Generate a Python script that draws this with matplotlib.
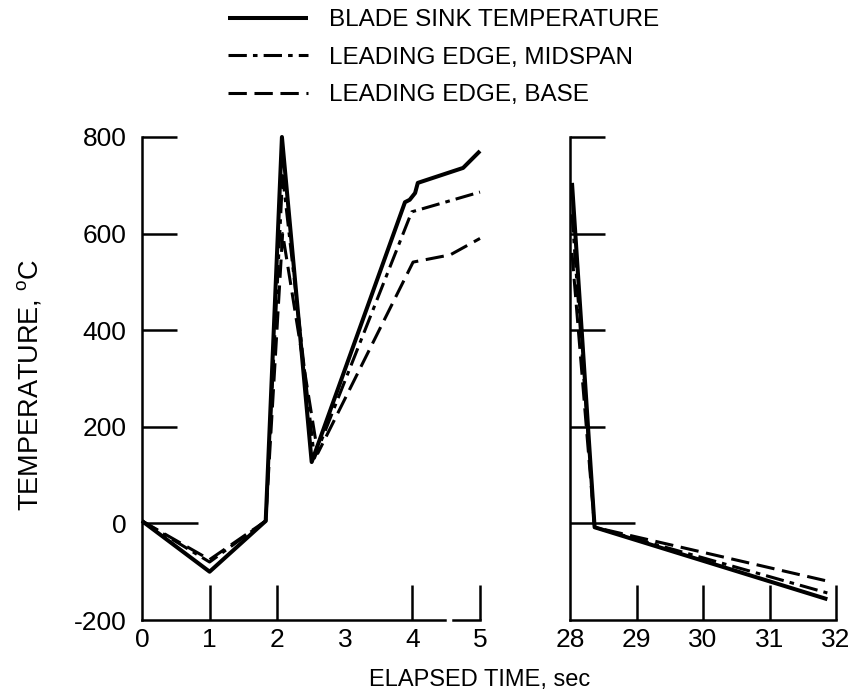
import matplotlib
matplotlib.use('Agg')
from matplotlib import pyplot as plt
from matplotlib import font_manager


def pick_font(*names):
    for n in names:
        try:
            font_manager.findfont(n, fallback_to_default=False)
            return n
        except ValueError:
            continue
    return 'DejaVu Sans'


FONT = pick_font('Liberation Sans Narrow', 'DejaVu Sans Condensed', 'Liberation Sans')
plt.rcParams['font.family'] = [FONT, 'DejaVu Sans']
plt.rcParams['mathtext.fontset'] = 'custom'
plt.rcParams['mathtext.rm'] = FONT

# --- data -------------------------------------------------------------------
labels = ['BLADE SINK TEMPERATURE', 'LEADING EDGE, MIDSPAN', 'LEADING EDGE, BASE']

# start-up transient, 0-5 sec
t_sink = [0, 1, 1.83, 2.07, 2.51, 3.89, 3.96, 4.04, 4.08, 4.75, 5.0]
sink = [5, -100, 5, 800, 127, 665, 670, 684, 705, 736, 771]

t_mid = [0, 1, 1.83, 2.08, 2.55, 3.99, 5.0]
mid = [5, -80, 5, 720, 135, 645, 686]

t_base = [0, 1, 1.83, 2.08, 2.6, 4.01, 4.56, 5.0]
base = [5, -75, 5, 600, 145, 541, 556, 590]

# shutdown, 28-32 sec
t_sink_r = [28.03, 28.37, 31.87]
sink_r = [705, -8, -157]

t_mid_r = [28.03, 28.37, 31.87]
mid_r = [640, -8, -144]

t_base_r = [28.03, 28.37, 31.92]
base_r = [560, -8, -121]

yticks = [-200, 0, 200, 400, 600, 800]
xticks_l = [0, 1, 2, 3, 4, 5]
xticks_r = [28, 29, 30, 31, 32]

# --- styling ------------------------------------------------------------------
FS = 19
LW_AX = 1.8
styles = [
    dict(color='black', lw=2.9, solid_capstyle='butt'),
    dict(color='black', lw=2.2, dashes=(6, 2, 1.5, 2)),
    dict(color='black', lw=2.2, dashes=(6, 2.5)),
]

fig = plt.figure(figsize=(8.57, 6.97), dpi=100)
W, H = 857, 697
ax1 = fig.add_axes([142 / W, 1 - 620 / H, 338 / W, 483 / H])
ax2 = fig.add_axes([570 / W, 1 - 620 / H, 266 / W, 483 / H])

left_series = [(t_sink, sink), (t_mid, mid), (t_base, base)]
right_series = [(t_sink_r, sink_r), (t_mid_r, mid_r), (t_base_r, base_r)]

handles = []
for (t, v), st, lab in zip(left_series, styles, labels):
    h, = ax1.plot(t, v, label=lab, clip_on=False, **st)
    handles.append(h)
for (t, v), st in zip(right_series, styles):
    ax2.plot(t, v, clip_on=False, **st)

for ax, zero_len in ((ax1, 40), (ax2, 47)):
    ax.set_ylim(-200, 800)
    ax.set_yticks(yticks)
    for s in ('top', 'right'):
        ax.spines[s].set_visible(False)
    for s in ('left', 'bottom'):
        ax.spines[s].set_linewidth(LW_AX)
    ax.tick_params(direction='in', length=25, width=LW_AX, labelsize=FS)
    ax.tick_params(axis='y', pad=11)
    ax.tick_params(axis='x', pad=6)
    yt = ax.yaxis.get_major_ticks()
    yt[0].tick1line.set_visible(False)
    # zero line tick is drawn longer
    yt[1].tick1line.set_markersize(zero_len)

ax1.set_xlim(0, 5)
ax1.set_xticks(xticks_l)
ax1.xaxis.get_major_ticks()[0].tick1line.set_visible(False)
ax1.xaxis.get_major_ticks()[3].tick1line.set_visible(False)
ax1.set_yticklabels([str(y) for y in yticks])

# break in the time axis
ax1.spines['bottom'].set_bounds(0, 4.48)
ax1.axhline(-200, xmin=4.6 / 5, xmax=1, color='black', lw=LW_AX, clip_on=False)

ax2.set_xlim(28, 32)
ax2.set_xticks(xticks_r)
ax2.xaxis.get_major_ticks()[0].tick1line.set_visible(False)
ax2.set_yticklabels([])

fig.text(30 / W, 1 - 385 / H, 'TEMPERATURE, $^{\\mathrm{o}}$C', rotation=90,
         ha='center', va='center', fontsize=19.5)
fig.text(480 / W, 1 - 680 / H, 'ELAPSED TIME, sec', ha='center', va='center',
         fontsize=17)

fig.legend(handles=handles, loc='upper left', bbox_to_anchor=(228 / W, 1 - 9 / H),
           frameon=False, fontsize=17.5, handlelength=3.3, handletextpad=0.86,
           labelspacing=0.64, borderpad=0, borderaxespad=0)

fig.savefig('out.png', dpi=100)
